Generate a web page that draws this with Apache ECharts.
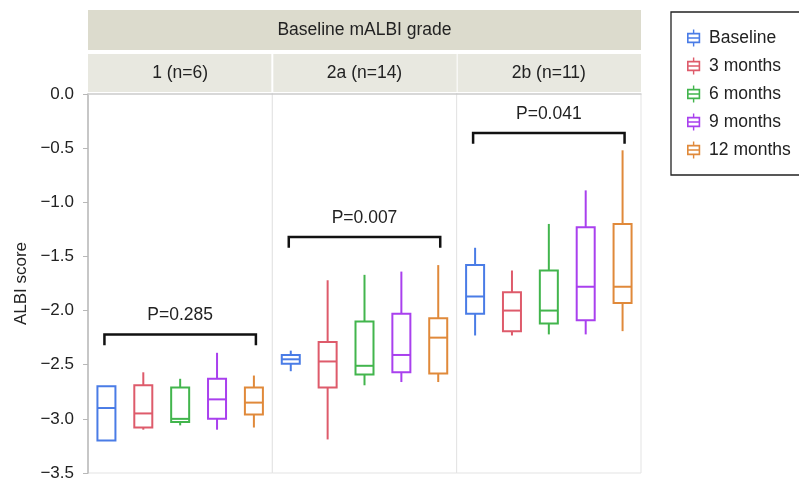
<!DOCTYPE html>
<html>
<head>
<meta charset="utf-8">
<script src="https://cdn.jsdelivr.net/npm/echarts@6/dist/echarts.min.js"></script>
<style>html,body{margin:0;padding:0;background:#fff;}#c{width:799px;height:484px;}</style>
</head>
<body>
<div id="c"></div>
<script>
const groups = ['1 (n=6)', '2a (n=14)', '2b (n=11)'];
const timepoints = ['Baseline', '3 months', '6 months', '9 months', '12 months'];
const yTicks = [0, -0.5, -1.0, -1.5, -2.0, -2.5, -3.0, -3.5];
// [min, Q1, median, Q3, max] per group
const baseline = [[-3.20, -3.20, -2.90, -2.70, -2.70], [-2.56, -2.49, -2.45, -2.41, -2.37], [-2.23, -2.03, -1.87, -1.58, -1.42]];
const month3   = [[-3.10, -3.08, -2.95, -2.69, -2.57], [-3.19, -2.71, -2.47, -2.29, -1.72], [-2.23, -2.19, -2.00, -1.83, -1.63]];
const month6   = [[-3.06, -3.03, -3.00, -2.71, -2.63], [-2.69, -2.59, -2.51, -2.10, -1.67], [-2.22, -2.12, -2.00, -1.63, -1.20]];
const month9   = [[-3.10, -3.00, -2.82, -2.63, -2.39], [-2.66, -2.57, -2.41, -2.03, -1.64], [-2.22, -2.09, -1.78, -1.23, -0.89]];
const month12  = [[-3.08, -2.96, -2.85, -2.71, -2.60], [-2.66, -2.58, -2.25, -2.07, -1.58], [-2.19, -1.93, -1.78, -1.20, -0.52]];
const pValues = ['P=0.285', 'P=0.007', 'P=0.041'];
const bracketTop = [-2.22, -1.32, -0.36];
const bracketBottom = [-2.32, -1.42, -0.46];

const seriesValues = [baseline, month3, month6, month9, month12];
const colors = ['#4a7ce6', '#de5b6b', '#42b54d', '#a940ee', '#e0893a'];
const FONT = '"Liberation Sans", Arial, Helvetica, sans-serif';
const FS = 17.5;

const plotLeft = 88, plotRight = 641, plotTop = 94, plotBottom = 473;
const panelW = (plotRight - plotLeft) / groups.length;

const chart = echarts.init(document.getElementById('c'), null, {renderer: 'canvas'});

const grids = [], xAxes = [], yAxes = [], series = [];
groups.forEach((g, gi) => {
  grids.push({left: plotLeft + gi * panelW, width: panelW, top: plotTop, height: plotBottom - plotTop,
    show: true, borderColor: '#e3e3e3', borderWidth: 1, backgroundColor: '#fff'});
  xAxes.push({type: 'category', gridIndex: gi, data: timepoints, boundaryGap: true,
    axisLine: {show: true, lineStyle: {color: '#cfcfcf', width: 1.5}}, axisTick: {show: false}, axisLabel: {show: false}, splitLine: {show: false}});
  yAxes.push({type: 'value', gridIndex: gi, min: -3.5, max: 0, interval: 0.5,
    show: gi === 0,
    name: gi === 0 ? 'ALBI score' : '', nameLocation: 'middle', nameGap: 58, nameRotate: 90,
    nameTextStyle: {fontSize: 17, color: '#222', fontFamily: FONT},
    axisLine: {show: true, lineStyle: {color: '#b8b8b8', width: 1.5}},
    axisTick: {show: true, length: 5, lineStyle: {color: '#b8b8b8'}},
    axisLabel: {fontSize: 17, color: '#222', fontFamily: FONT, margin: 14,
      formatter: v => (v < 0 ? '\u2212' : '') + Math.abs(v).toFixed(1)},
    splitLine: {show: false}});
  timepoints.forEach((t, ti) => {
    series.push({
      type: 'custom', name: t, xAxisIndex: gi, yAxisIndex: gi,
      itemStyle: {color: colors[ti]},
      encode: {x: 0, y: [1, 2, 3, 4, 5]},
      data: [[ti].concat(seriesValues[ti][gi])],
      clip: false,
      renderItem: (params, api) => {
        const x = api.value(0);
        const lo = api.coord([x, api.value(1)]);
        const q1 = api.coord([x, api.value(2)]);
        const md = api.coord([x, api.value(3)]);
        const q3 = api.coord([x, api.value(4)]);
        const hi = api.coord([x, api.value(5)]);
        const cx = lo[0], w = 18;
        const c = api.visual('color');
        const st = {stroke: c, lineWidth: 2, fill: null};
        return {type: 'group', children: [
          {type: 'line', shape: {x1: cx, y1: hi[1], x2: cx, y2: q3[1]}, style: st},
          {type: 'line', shape: {x1: cx, y1: q1[1], x2: cx, y2: lo[1]}, style: st},
          {type: 'rect', shape: {x: cx - w / 2, y: q3[1], width: w, height: q1[1] - q3[1]}, style: {stroke: c, lineWidth: 2, fill: '#fff'}},
          {type: 'line', shape: {x1: cx - w / 2, y1: md[1], x2: cx + w / 2, y2: md[1]}, style: st}
        ]};
      }
    });
  });
  series.push({
    type: 'custom', name: 'bracket' + gi, xAxisIndex: gi, yAxisIndex: gi,
    encode: {x: [0, 1], y: [2, 3]},
    data: [[0, timepoints.length - 1, bracketTop[gi], bracketBottom[gi]]],
    clip: false, silent: true,
    renderItem: (params, api) => {
      const a = api.coord([api.value(0), api.value(2)]);
      const b = api.coord([api.value(1), api.value(2)]);
      const d = api.coord([api.value(0), api.value(3)]);
      const x1 = a[0] - 2, x2 = b[0] + 2;
      return {type: 'group', children: [
        {type: 'polyline', shape: {points: [[x1, d[1]], [x1, a[1]], [x2, a[1]], [x2, d[1]]]},
          style: {stroke: '#111', lineWidth: 2.5, fill: null}},
        {type: 'text', style: {text: pValues[gi], x: (x1 + x2) / 2, y: a[1] - 19, textAlign: 'center', textVerticalAlign: 'middle',
          fontSize: FS, fill: '#222', fontFamily: FONT}}
      ]};
    }
  });
});

const ICON = 'path://M6.25 0L7.75 0L7.75 3.5L6.25 3.5Z M0 3.5L14 3.5L14 14.5L0 14.5Z M1.7 5.2L1.7 12.8L12.3 12.8L12.3 5.2Z M1.7 8.2L12.3 8.2L12.3 9.8L1.7 9.8Z M6.25 14.5L7.75 14.5L7.75 18L6.25 18Z';

const graphics = [
  {type: 'rect', shape: {x: plotLeft, y: 10, width: plotRight - plotLeft, height: 40}, style: {fill: '#dcdbcd'}, silent: true},
  {type: 'text', x: (plotLeft + plotRight) / 2, y: 30, style: {text: 'Baseline mALBI grade', textAlign: 'center', textVerticalAlign: 'middle', fontSize: FS, fill: '#222', fontFamily: FONT}, silent: true}
];
groups.forEach((g, gi) => {
  const x0 = plotLeft + gi * panelW;
  graphics.push({type: 'rect', shape: {x: x0 + (gi ? 1 : 0), y: 54, width: panelW - 1, height: 38}, style: {fill: '#e8e8e0'}, silent: true});
  graphics.push({type: 'text', x: x0 + panelW / 2, y: 73, style: {text: g, textAlign: 'center', textVerticalAlign: 'middle', fontSize: FS, fill: '#222', fontFamily: FONT}, silent: true});
});

chart.setOption({
  animation: false,
  backgroundColor: '#fff',
  grid: grids, xAxis: xAxes, yAxis: yAxes, series: series,
  graphic: graphics,
  legend: {
    data: timepoints.map((t, i) => ({name: t, icon: ICON, itemStyle: {color: colors[i], borderWidth: 0}})),
    orient: 'vertical', left: 671, top: 12,
    itemWidth: 15, itemHeight: 17, itemGap: 10,
    padding: [17, 30, 16, 16],
    borderColor: '#222', borderWidth: 1.3,
    selectedMode: false,
    textStyle: {fontSize: FS, color: '#222', fontFamily: FONT, padding: [0, 0, 0, 3]}
  }
});
</script>
</body>
</html>
